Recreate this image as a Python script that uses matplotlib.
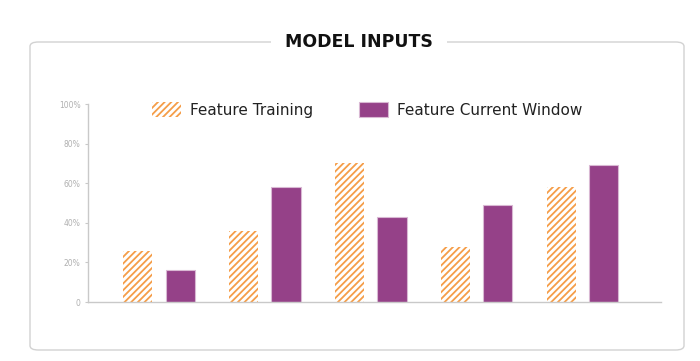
import numpy as np
import matplotlib
matplotlib.use("Agg")
import matplotlib.pyplot as plt
from matplotlib.patches import FancyBboxPatch

# data
features = ["F1", "F2", "F3", "F4", "F5"]
training = [26, 36, 70, 28, 58]
current = [16, 58, 43, 49, 69]
ytick_vals = [0, 20, 40, 60, 80, 100]
ytick_labels = ["0", "20%", "40%", "60%", "80%", "100%"]

orange = "#f59d48"
purple = "#954188"
grid_grey = "#c9c9c9"

plt.rcParams["font.family"] = ["DejaVu Sans"]
plt.rcParams["hatch.linewidth"] = 1.3

fig = plt.figure(figsize=(7.0, 3.61), dpi=100)

# rounded frame around the chart
frame = FancyBboxPatch((30 / 700, 1 - 350 / 361), 654 / 700, 308 / 361,
                       boxstyle="round,pad=0,rounding_size=0.012",
                       transform=fig.transFigure, facecolor="none",
                       edgecolor="#d2d2d2", linewidth=1.0, zorder=-1)
fig.patches.append(frame)

fig.text(359 / 700, 1 - 42 / 361, "MODEL INPUTS", ha="center", va="center",
         fontsize=12.5, fontweight="bold", color="#111111",
         bbox=dict(boxstyle="square,pad=0.8", facecolor="white", edgecolor="none"))

ax = fig.add_axes([88 / 700, 1 - 302 / 361, 573 / 700, 198 / 361])
ax.set_facecolor("none")

x = np.arange(len(features))
w = 0.275
off = 0.2
ax.bar(x - off, training, w, facecolor="white", edgecolor=orange,
       hatch="/////", linewidth=0, label="Feature Training")
ax.bar(x + off, current, w, color=purple, edgecolor="#d9b8d3",
       linewidth=0.8, label="Feature Current Window")

ax.set_xlim(-0.67, 4.74)
ax.set_ylim(0, 100)
ax.set_xticks([])
ax.set_yticks(ytick_vals)
ax.set_yticklabels(ytick_labels)
ax.tick_params(axis="y", length=2.5, width=0.8, color=grid_grey,
               labelsize=5.5, labelcolor="#b0b0b0", pad=3)
for s in ["top", "right"]:
    ax.spines[s].set_visible(False)
for s in ["left", "bottom"]:
    ax.spines[s].set_color(grid_grey)
    ax.spines[s].set_linewidth(1.0)

fig.legend(loc="center", bbox_to_anchor=(367 / 700, 1 - 110 / 361), ncol=2,
           frameon=False, fontsize=11, handlelength=1.9, handleheight=1.15,
           handletextpad=0.6, columnspacing=3.0, labelcolor="#222222")

fig.savefig("out.png", dpi=100, facecolor="white")
